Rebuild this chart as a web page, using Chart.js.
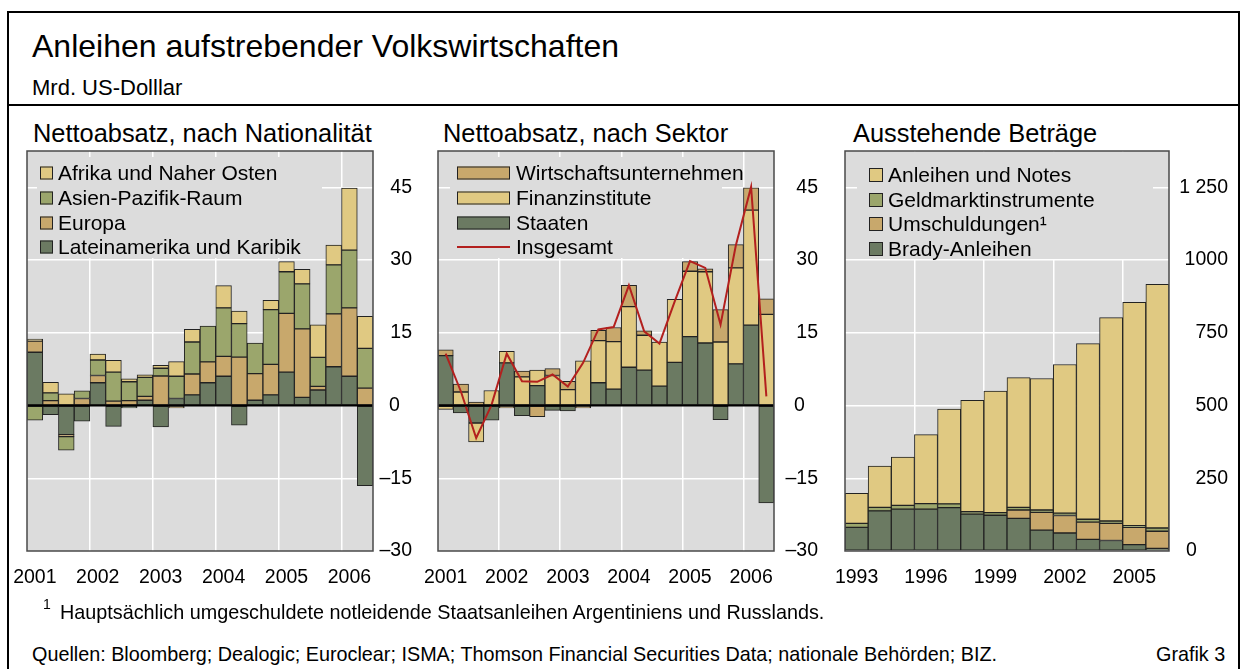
<!DOCTYPE html>
<html>
<head>
<meta charset="utf-8">
<script src="https://cdn.jsdelivr.net/npm/chart.js@4.4.0/dist/chart.umd.min.js"></script>
<style>
    body { margin: 0; background: #fff; font-family: "Liberation Sans", Arial, sans-serif; color: #000; }
    #page { position: relative; width: 1242px; height: 669px; overflow: hidden; }
    .t { position: absolute; white-space: nowrap; line-height: 1; }
    canvas { position: absolute; }
</style>
</head>
<body>
<div id="page">
    <div style="position:absolute;left:7px;top:11px;width:1233px;height:720px;border:2px solid #000;box-sizing:border-box"></div>
    <div style="position:absolute;left:7px;top:104px;width:1233px;height:2px;background:#000"></div>

    <div class="t" style="left:32px;top:30px;font-size:32px">Anleihen aufstrebender Volkswirtschaften</div>
    <div class="t" style="left:32px;top:77px;font-size:22px">Mrd. US-Dolllar</div>

    <div class="t" style="left:33px;top:121px;font-size:25.4px">Nettoabsatz, nach Nationalität</div>
    <div class="t" style="left:443px;top:121px;font-size:25.4px">Nettoabsatz, nach Sektor</div>
    <div class="t" style="left:853px;top:121px;font-size:25.4px">Ausstehende Beträge</div>

    <canvas id="nationality" width="420" height="460" style="left:0;top:140px"></canvas>
    <canvas id="sector" width="420" height="460" style="left:420px;top:140px"></canvas>
    <canvas id="outstanding" width="422" height="460" style="left:820px;top:140px"></canvas>

    <div class="t" style="left:43px;top:597px;font-size:14px">1</div>
    <div class="t" style="left:60px;top:603px;font-size:19.8px">Hauptsächlich umgeschuldete notleidende Staatsanleihen Argentiniens und Russlands.</div>
    <div class="t" style="left:32px;top:645px;font-size:19.8px">Quellen: Bloomberg; Dealogic; Euroclear; ISMA; Thomson Financial Securities Data; nationale Behörden; BIZ.</div>
    <div class="t" style="left:1156px;top:645px;font-size:19.8px">Grafik 3</div>
</div>

<script>
// quarters 2001 Q1 - 2006 Q2
const quarters = ['2001 Q1', '2001 Q2', '2001 Q3', '2001 Q4', '2002 Q1', '2002 Q2', '2002 Q3', '2002 Q4',
    '2003 Q1', '2003 Q2', '2003 Q3', '2003 Q4', '2004 Q1', '2004 Q2', '2004 Q3', '2004 Q4',
    '2005 Q1', '2005 Q2', '2005 Q3', '2005 Q4', '2006 Q1', '2006 Q2'];
const quarterTicks = ['2001', '', '', '', '2002', '', '', '', '2003', '', '', '', '2004', '', '', '',
    '2005', '', '', '', '2006', ''];

// Nettoabsatz, nach Nationalität
const lateinamerika = [11.0, -1.9, -6.0, -3.2, 4.7, -4.3, -0.5, 1.1, -4.4, 1.45, 2.2, 4.7, 6.05, -4.05, 1.1, 2.2, 6.9, 1.7, 3.2, 8.0, 6.05, -16.5];
const europa = [2.3, 1.0, -0.4, 1.45, 1.5, 0.9, 1.0, 0.8, 6.1, -0.5, 4.3, 4.3, 4.1, 10.0, 5.5, 6.3, 12.1, 14.1, 0.75, 10.9, 14.1, 3.6];
const asienPazifik = [-3.0, 1.6, -2.8, 1.6, 3.2, 6.0, 3.9, 3.9, 1.6, 4.6, 6.6, 7.4, 10.0, 6.9, 6.3, 11.3, 8.6, 9.3, 6.0, 10.1, 11.9, 8.2];
const afrika = [0.4, 2.2, 2.4, 0, 1.2, 2.4, 0.6, 0.55, 0.6, 3.0, 2.6, 0, 4.6, 2.6, 0, 1.9, 2.1, 3.0, 6.7, 4.1, 12.8, 6.6];

// Nettoabsatz, nach Sektor
const staaten = [10.3, -1.5, -3.6, -3.0, 8.8, -2.1, 4.1, -1.0, -1.1, 0, 4.7, 3.4, 7.9, 7.3, 4.0, 8.9, 14.2, 12.9, -2.9, 8.6, 16.6, -20.1];
const finanzinstitute = [-0.8, 2.8, -3.9, 3.1, 2.4, 5.9, 3.2, 6.2, 3.3, 9.2, 8.7, 9.8, 12.5, 7.2, 9.1, 13.0, 13.5, 14.7, 13.1, 19.8, 23.7, 18.8];
const wirtschaft = [1.2, 1.65, 0.7, 0, -0.5, 1.2, -2.3, 1.4, 1.7, -0.5, 2.1, 2.9, 4.4, 0.9, 0, 0, 2.0, 0.6, 6.7, 4.8, 4.6, 3.2];
const insgesamt = [10.7, 2.9, -6.7, 0.1, 10.7, 5.0, 4.9, 6.4, 3.9, 8.8, 15.7, 16.2, 24.8, 15.3, 12.8, 21.5, 29.8, 28.4, 16.7, 33.0, 45.1, 1.9];

const netTicks = [-30, -15, 0, 15, 30, 45];
const netTickLabels = ['–30', '–15', '0', '15', '30', '45'];

// Ausstehende Beträge
const years = ['1993', '1994', '1995', '1996', '1997', '1998', '1999', '2000', '2001', '2002', '2003', '2004', '2005', '2006'];
const yearTicks = ['1993', '', '', '1996', '', '', '1999', '', '', '2002', '', '', '2005', ''];
const brady = [81, 138, 144, 144, 149, 127, 123, 112, 72, 62, 40, 36, 22, 9];
const umschuldungen = [0, 0, 0, 0, 0, 0, 0, 29, 61, 60, 59, 59, 59, 59];
const geldmarkt = [14, 12, 13, 19, 13, 8, 9, 9, 8, 8, 10, 8, 6, 11];
const anleihenNotes = [103, 142, 166, 237, 326, 383, 418, 446, 452, 511, 604, 699, 768, 838];

const stockTicks = [0, 250, 500, 750, 1000, 1250];
const stockTickLabels = ['0', '250', '500', '750', '1000', '1 250'];

const cDark = '#6b7a62', cTan = '#c8a86c', cOlive = '#9ba66c', cYellow = '#e0c982', cRed = '#b3201e';
const plotBg = '#dcdcdc';
const FONT = '"Liberation Sans", Arial, sans-serif';

const panelPlugin = {
    id: 'panel',
    beforeDraw(chart, args, o) {
        const { ctx, chartArea: a } = chart;
        ctx.save();
        ctx.fillStyle = plotBg;
        ctx.fillRect(a.left, a.top, a.width, a.height);
        ctx.restore();
    },
    beforeDatasetsDraw(chart, args, o) {
        // legend box inside the plot, over the grid
        const { ctx, chartArea: a } = chart;
        const lg = o.legend;
        ctx.save();
        ctx.fillStyle = plotBg;
        ctx.fillRect(a.left + lg.box[0], a.top + lg.box[1], lg.box[2], lg.box[3]);
        ctx.font = '21px ' + FONT;
        ctx.textBaseline = 'middle';
        lg.order.forEach((di, i) => {
            const ds = chart.data.datasets[di];
            const cy = a.top + lg.rows[i];
            const sx = a.left + lg.sw[0];
            if (ds.type === 'line') {
                ctx.strokeStyle = ds.borderColor;
                ctx.lineWidth = 2;
                ctx.beginPath();
                ctx.moveTo(sx, cy);
                ctx.lineTo(sx + lg.sw[1], cy);
                ctx.stroke();
            } else {
                ctx.fillStyle = ds.backgroundColor;
                ctx.fillRect(sx, cy - lg.sw[2] / 2, lg.sw[1], lg.sw[2]);
                ctx.strokeStyle = '#222';
                ctx.lineWidth = 1;
                ctx.strokeRect(sx + 0.5, cy - lg.sw[2] / 2 + 0.5, lg.sw[1] - 1, lg.sw[2] - 1);
            }
            ctx.fillStyle = '#000';
            ctx.fillText(ds.label, a.left + lg.tx, cy + 1);
        });
        ctx.restore();
    },
    afterDatasetsDraw(chart, args, o) {
        const { ctx, chartArea: a } = chart;
        ctx.save();
        if (o.zeroLine) {
            const y0 = chart.scales.y.getPixelForValue(0);
            ctx.strokeStyle = '#000';
            ctx.lineWidth = 2;
            ctx.beginPath();
            ctx.moveTo(a.left, y0);
            ctx.lineTo(a.right, y0);
            ctx.stroke();
        }
        ctx.strokeStyle = '#4a4a4a';
        ctx.lineWidth = 1.5;
        ctx.strokeRect(a.left, a.top, a.width, a.height);
        ctx.restore();
    },
    afterDraw(chart, args, o) {
        const { ctx, chartArea: a } = chart;
        const xs = chart.scales.x, ys = chart.scales.y;
        ctx.save();
        ctx.fillStyle = '#000';
        ctx.font = '19.5px ' + FONT;
        ctx.textBaseline = 'middle';
        ctx.textAlign = 'center';
        o.xLabels.forEach((lab, i) => {
            if (lab) ctx.fillText(lab, xs.getPixelForValue(i), a.bottom + 27);
        });
        o.yTicks.forEach((v, i) => {
            const y = ys.getPixelForValue(v);
            if (v === 0) {
                ctx.textAlign = 'left';
                ctx.fillText(o.yLabels[i], a.right + o.zeroLeft, y);
            } else {
                ctx.textAlign = 'right';
                ctx.fillText(o.yLabels[i], a.right + o.labelRight, y);
            }
        });
        ctx.restore();
    }
};

function bar(label, data, color) {
    return {
        label: label,
        data: data,
        backgroundColor: color,
        borderColor: '#222',
        borderWidth: 1,
        borderSkipped: false,
        barPercentage: 1,
        categoryPercentage: 1,
        order: 1
    };
}

function makeOptions(cfg) {
    return {
        responsive: false,
        animation: false,
        devicePixelRatio: 1,
        layout: { padding: cfg.padding },
        plugins: {
            legend: { display: false },
            tooltip: { enabled: false },
            panel: cfg.panel
        },
        scales: {
            x: {
                stacked: true,
                grid: {
                    offset: true,
                    drawTicks: false,
                    lineWidth: 1.5,
                    color: ctx => (ctx.index > 0 && ctx.index % cfg.every === 0) ? '#fff' : 'rgba(0,0,0,0)'
                },
                border: { display: false },
                ticks: { display: false, autoSkip: false },
                afterFit: s => { s.height = 0; }
            },
            y: {
                stacked: true,
                position: 'right',
                min: cfg.min,
                max: cfg.max,
                grid: {
                    drawTicks: false,
                    lineWidth: 1.5,
                    color: ctx => (ctx.tick && (ctx.tick.value === 0 || ctx.tick.value === cfg.min)) ? 'rgba(0,0,0,0)' : '#fff'
                },
                border: { display: false },
                ticks: { display: false },
                afterBuildTicks: s => { s.ticks = cfg.ticks.map(v => ({ value: v })); },
                afterFit: s => { s.width = 0; }
            }
        }
    };
}

new Chart(document.getElementById('nationality'), {
    type: 'bar',
    data: {
        labels: quarters,
        datasets: [
            bar('Lateinamerika und Karibik', lateinamerika, cDark),
            bar('Europa', europa, cTan),
            bar('Asien-Pazifik-Raum', asienPazifik, cOlive),
            bar('Afrika und Naher Osten', afrika, cYellow)
        ]
    },
    options: makeOptions({
        padding: { left: 27, top: 11, right: 47, bottom: 49 },
        every: 4, min: -30, max: 52.5, ticks: netTicks,
        panel: {
            zeroLine: true,
            xLabels: quarterTicks, yTicks: netTicks, yLabels: netTickLabels,
            labelRight: 39, zeroLeft: 16,
            legend: { box: [10, 6, 285, 101], sw: [13, 13, 13], tx: 31, rows: [22, 47, 72, 96], order: [3, 2, 1, 0] }
        }
    }),
    plugins: [panelPlugin]
});

new Chart(document.getElementById('sector'), {
    type: 'bar',
    data: {
        labels: quarters,
        datasets: [
            bar('Staaten', staaten, cDark),
            bar('Finanzinstitute', finanzinstitute, cYellow),
            bar('Wirtschaftsunternehmen', wirtschaft, cTan),
            {
                type: 'line',
                label: 'Insgesamt',
                data: insgesamt,
                borderColor: cRed,
                borderWidth: 2,
                pointRadius: 0,
                tension: 0,
                stack: 'total',
                order: 0
            }
        ]
    },
    options: makeOptions({
        padding: { left: 18, top: 11, right: 66, bottom: 49 },
        every: 4, min: -30, max: 52.5, ticks: netTicks,
        panel: {
            zeroLine: true,
            xLabels: quarterTicks, yTicks: netTicks, yLabels: netTickLabels,
            labelRight: 44, zeroLeft: 20,
            legend: { box: [12, 6, 272, 101], sw: [19, 53, 13], tx: 78, rows: [22, 47, 72, 96], order: [2, 1, 0, 3] }
        }
    }),
    plugins: [panelPlugin]
});

new Chart(document.getElementById('outstanding'), {
    type: 'bar',
    data: {
        labels: years,
        datasets: [
            bar('Brady-Anleihen', brady, cDark),
            bar('Umschuldungen¹', umschuldungen, cTan),
            bar('Geldmarktinstrumente', geldmarkt, cOlive),
            bar('Anleihen und Notes', anleihenNotes, cYellow)
        ]
    },
    options: makeOptions({
        padding: { left: 25, top: 11, right: 73, bottom: 49 },
        every: 3, min: 0, max: 1375, ticks: stockTicks,
        panel: {
            zeroLine: false,
            xLabels: yearTicks, yTicks: stockTicks, yLabels: stockTickLabels,
            labelRight: 59, zeroLeft: 17,
            legend: { box: [12, 1, 296, 107], sw: [24, 14, 14], tx: 43, rows: [24, 49, 73, 98], order: [3, 2, 1, 0] }
        }
    }),
    plugins: [panelPlugin]
});
</script>
</body>
</html>
